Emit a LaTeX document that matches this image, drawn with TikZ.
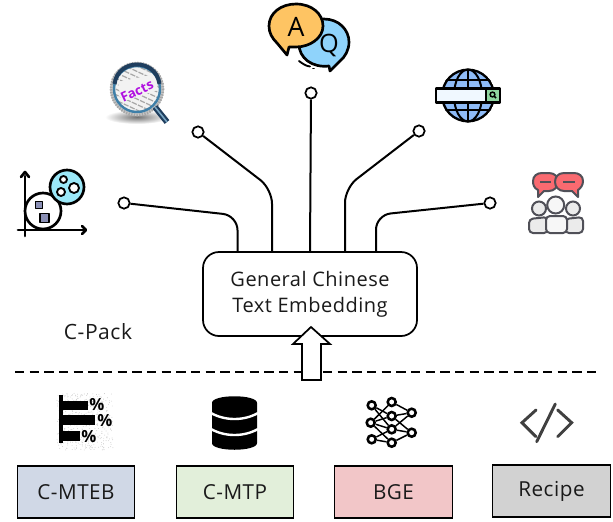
\documentclass[tikz,border=0pt]{standalone}
\usepackage{fontspec}
\setmainfont{Open Sans}[LetterSpace=2.5]
\newfontfamily\plainfont{Open Sans}
\usetikzlibrary{calc}
\definecolor{cmteb}{HTML}{D0D8E6}
\definecolor{cmtp}{HTML}{E2EFDA}
\definecolor{bge}{HTML}{F2C6C8}
\definecolor{recipe}{HTML}{D2D2D2}
\definecolor{txt}{HTML}{1A1A1A}
\definecolor{yellowb}{HTML}{FEC463}
\definecolor{blueb}{HTML}{8FD3FB}
\definecolor{cyanb}{HTML}{9BE8F8}
\definecolor{sq}{HTML}{8A8FB5}
\definecolor{sky}{HTML}{8FBCF8}
\definecolor{barf}{HTML}{F0F8FF}
\definecolor{greenb}{HTML}{8FD6A0}
\definecolor{redb}{HTML}{F96A70}
\definecolor{ppl}{HTML}{505058}
\definecolor{navy}{HTML}{1F3E5E}
\definecolor{steel}{HTML}{3E7FA8}
\definecolor{factsc}{HTML}{B010E0}
\tikzset{
  wire/.style={draw=black,line width=1.5pt,rounded corners=11pt},
  endcirc/.style={circle,draw=black,line width=1.3pt,fill=white,minimum size=8.5pt,inner sep=0pt},
  hubbox/.style={draw=black,line width=1.3pt,rounded corners=12pt,fill=white,minimum width=160.5pt,minimum height=63pt,align=center,font=\fontsize{15}{19.5}\selectfont,text=txt},
  basebox/.style={draw=black,line width=0.8pt,minimum width=88pt,minimum height=39pt,font=\fontsize{15.5}{18}\selectfont,text=txt},
  nn/.style={circle,draw=black,line width=1.9pt,fill=white,minimum size=6pt,inner sep=0pt},
  nnedge/.style={draw=black,line width=1.1pt},
  icon/.style={line width=2pt,draw=black,line join=round,line cap=round},
  person/.style={draw=ppl,line width=1.5pt,rounded corners=3pt},
}
\begin{document}
\begin{tikzpicture}[x=0.75pt,y=-0.75pt]
\useasboundingbox (0,0) rectangle (613,521);

% dashed separator
\coordinate (dl) at (15,372);
\coordinate (dr) at (600,372);
\draw[line width=1.4pt,dash pattern=on 7pt off 4pt] (dl) -- (dr);

% hub and endpoints
\node[hubbox] (hub) at (310,294) {General Chinese\\Text Embedding};
\node[endcirc] (c1) at (124,203) {};
\node[endcirc] (c2) at (198,132) {};
\node[endcirc] (c3) at (311,93) {};
\node[endcirc] (c4) at (419,131) {};
\node[endcirc] (c5) at (490,203) {};
\coordinate (k1) at (237.5,215.5);
\coordinate (k2) at (272,189);
\coordinate (k3) at (310,150);
\coordinate (k4) at (345,188);
\coordinate (k5) at (376,215);
\draw[wire] (c1) -- (k1) -- (k1 |- hub.north);
\draw[wire] (c2) -- (k2) -- (k2 |- hub.north);
\draw[wire] (c3) -- (k3 |- hub.north);
\draw[wire] (c4) -- (k4) -- (k4 |- hub.north);
\draw[wire] (c5) -- (k5) -- (k5 |- hub.north);

% hollow arrow
\draw[fill=white,line width=1.3pt,line join=miter]
  (311,327) -- (330,344) -- (321,344) -- (321,380) -- (302,380) -- (302,344) -- (293,344) -- cycle;

\node[font=\fontsize{15.8}{18}\selectfont,text=txt] (cpack) at (98,332) {C-Pack};

% bottom boxes
\node[basebox,fill=cmteb] (b1) at (76,492) {C-MTEB};
\node[basebox,fill=cmtp] (b2) at (235,492) {C-MTP};
\node[basebox,fill=bge] (b3) at (393.5,492) {BGE};
\node[basebox,fill=recipe] (b4) at (551.5,491) {Recipe};

% scatter icon
\draw[icon] (25,176) -- (25,236);
\draw[icon] (18,230) -- (85,230);
\draw[icon] (21,177) -- (25,172) -- (29,177);
\draw[icon] (82,226) -- (86,230) -- (82,234);
\draw[icon,fill=white] (43,211) circle (18);
\draw[icon,fill=cyanb] (67,187) circle (17);
\draw[icon,line width=1.4pt,fill=white] (63.5,179.5) circle (3.5);
\draw[icon,line width=1.4pt,fill=white] (61,192) circle (4);
\draw[icon,line width=1.4pt,fill=white] (74,188) circle (5);
\draw[icon,line width=1.2pt,fill=sq] (35.5,201.5) rectangle (42.5,208.5);
\draw[icon,line width=1.2pt,fill=sq] (40,213.5) rectangle (49,222.5);

% facts magnifier
\fill[white,inner color=black!55,outer color=white] (137,117) ellipse (32 and 7);
\fill[black!22] (137,89) circle (27);
\draw[black!35,line width=2pt,dash pattern=on 1pt off 1pt] (137,89) circle (26);
\begin{scope}
  \clip (137,88) circle (23);
  \fill[black!5] (110,60) rectangle (165,118);
  \foreach \d in {-20,-15,...,20}
    \draw[black!35,line width=0.9pt,dash pattern=on 4pt off 1pt,rotate around={-25:(137,88)}] (105,88+\d) -- (170,88+\d);
\end{scope}
\fill[black!5] (118,82) -- (155,74) -- (158,90) -- (121,102) -- cycle;
\draw[steel,line width=1.8pt] (137,89) circle (23);
\draw[navy,line width=3pt] (114.5,84) .. controls (118,58) and (156,58) .. (159.5,84);
\draw[navy,line width=4.5pt] (155,107) -- (167,122);
\draw[steel!70,line width=1.2pt] (155,107) -- (167,122);
\node[rotate=25,font=\plainfont\bfseries\fontsize{10}{10}\selectfont,text=factsc] (facts) at (137,91) {Facts};

% Q&A bubbles
\draw[icon,fill=blueb] (330,71) -- (329,66) .. controls (312,68) and (299,58) .. (299,44)
   .. controls (299,29) and (310,19) .. (324,19) .. controls (339,19) and (349,30) .. (349,42)
   .. controls (349,50) and (345,57) .. (340,61) -- cycle;
\draw[icon,fill=yellowb] (287,55) -- (277,43) .. controls (272,38) and (269,33) .. (269,26)
   .. controls (269,13) and (281,4) .. (296,4) .. controls (312,4) and (323,14) .. (323,26)
   .. controls (323,38) and (310,47) .. (296,47) .. controls (293,47) and (291,47) .. (289,47) -- cycle;
\node[font=\plainfont\fontsize{20}{20}\selectfont,text=black] (aL) at (296,27) {A};
\node[font=\plainfont\fontsize{19}{19}\selectfont,text=black] (qL) at (329,45) {Q};
\draw[icon,line width=1.4pt] (299,61) .. controls (303,64) and (306,66) .. (310,66.5);
\draw[icon,line width=1.4pt] (313,68.5) -- (314,68.5);

% globe
\begin{scope}
  \fill[sky] (468,95.5) circle (26);
  \clip (468,95.5) circle (27);
  \draw[icon,line width=1.5pt] (468,69) -- (468,122);
  \draw[icon,line width=1.5pt] (468,95.5) ellipse (14 and 26);
  \draw[icon,line width=1.5pt] (440,80) -- (496,80);
  \draw[icon,line width=1.5pt] (440,110) -- (496,110);
  \draw[icon] (468,95.5) circle (26);
\end{scope}
\draw[icon,line width=1.7pt,fill=barf] (436,88.5) rectangle (486,102.5);
\draw[icon,line width=1.7pt,fill=greenb] (486,88.5) rectangle (500,102.5);
\draw[black,line width=1.1pt] (492.5,94.5) circle (2.4);
\draw[black,line width=1.1pt] (494,96) -- (496,98);

% people
\foreach \x/\w in {529/19,565/18}{
  \draw[person,fill=black!8] (\x,233) -- (\x,219) -- (\x+\w,217) -- (\x+\w,233) -- cycle;
}
\draw[person,fill=black!8] (539,208.5) circle (7);
\draw[person,fill=black!8] (573,208.5) circle (7);
\draw[person,fill=black!3] (546,233) -- (546,216) -- (567,216) -- (567,233) -- cycle;
\draw[person,fill=black!3] (555.7,205) circle (8.5);
\draw[draw=ppl,line width=1.5pt,fill=redb,line join=round] (538,197) -- (538,190)
  .. controls (534,188) and (533,185) .. (533,181) .. controls (533,176) and (537,173) .. (542,173)
  -- (549,173) .. controls (555,173) and (558,177) .. (558,182) .. controls (558,187) and (554,191) .. (549,191)
  -- (544,191) -- cycle;
\draw[draw=ppl,line width=1.5pt,fill=redb,line join=round] (578,197) -- (578,190)
  .. controls (581,188) and (583,185) .. (583,181) .. controls (583,176) and (579,173) .. (574,173)
  -- (564,173) .. controls (558,173) and (555,177) .. (555,182) .. controls (555,187) and (559,191) .. (564,191)
  -- (572,191) -- cycle;
\draw[ppl,line width=1.3pt] (540,182) -- (551,182);
\draw[ppl,line width=1.3pt] (563,182) -- (575,182);

% bar chart icon
\pgfmathsetseed{7}
\foreach \i in {1,...,450}{
  \pgfmathsetmacro{\rx}{57+56*rnd}
  \pgfmathsetmacro{\ry}{393+57*rnd}
  \fill[black!22] (\rx,\ry) circle (0.45);
}
\fill[black] (59,395) rectangle (63,443);
\fill[black] (61,401) rectangle (88,410);
\fill[black] (61,415) rectangle (95,425);
\fill[black] (61,431) rectangle (80,441);
\node[font=\plainfont\bfseries\fontsize{12.5}{12.5}\selectfont,inner sep=0pt] (p1) at (97,405) {\%};
\node[font=\plainfont\bfseries\fontsize{12.5}{12.5}\selectfont,inner sep=0pt] (p2) at (105,421) {\%};
\node[font=\plainfont\bfseries\fontsize{12.5}{12.5}\selectfont,inner sep=0pt] (p3) at (89,437) {\%};

% database icon
\fill[black] (212,403) .. controls (212,394) and (257,394) .. (257,403)
  -- (257,443) .. controls (257,452) and (212,452) .. (212,443) -- cycle;
\draw[white,line width=1.8pt] (211,413) .. controls (225,421) and (244,421) .. (258,413);
\draw[white,line width=1.8pt] (211,429) .. controls (225,437) and (244,437) .. (258,429);

% network icon
\node[nn] (na) at (371.7,405.3) {};
\node[nn] (nb) at (370.7,422.7) {};
\node[nn] (nc) at (371.7,439.3) {};
\node[nn] (nd) at (391.7,402) {};
\node[nn] (ne) at (391.7,416) {};
\node[nn] (nf) at (391.7,429.3) {};
\node[nn] (ng) at (391.7,442.7) {};
\node[nn] (nh) at (411.7,412.7) {};
\node[nn] (ni) at (411.7,432.7) {};
\foreach \p/\q in {na/ne,na/nf,nb/nd,nb/ne,nb/nf,nb/ng,nc/nf,nc/ng,nd/nh,ne/ni,nf/nh,nf/ni,ng/ni,ne/nh}
  \draw[nnedge] (\p) -- (\q);

% code icon
\draw[draw=black!75,line width=2.2pt,line cap=round,line join=miter] (536,410) -- (522,422.7) -- (536,436.7);
\draw[draw=black!75,line width=2.2pt,line cap=round,line join=miter] (557.7,410) -- (571.7,422.7) -- (557.7,436.7);
\draw[draw=black!75,line width=2.2pt,line cap=round] (555.3,404) -- (536.7,441.7);
\end{tikzpicture}
\end{document}
